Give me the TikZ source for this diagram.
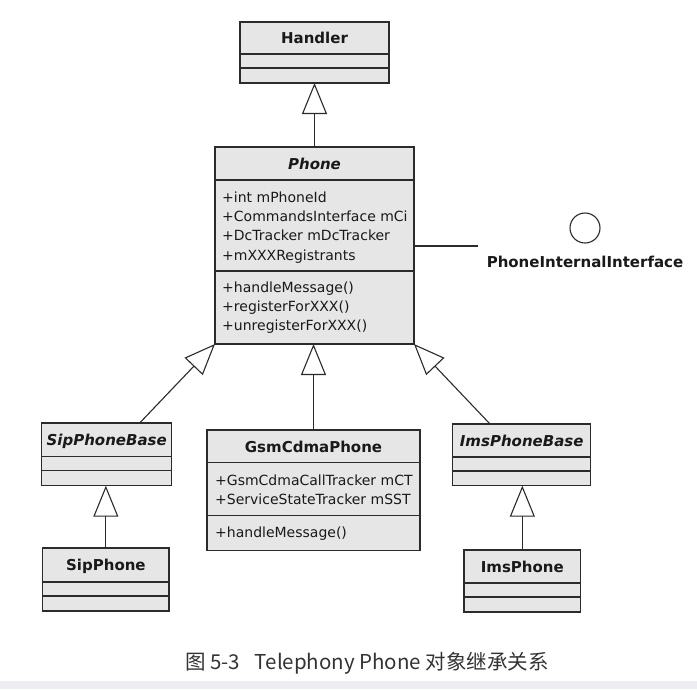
\documentclass[tikz,border=0pt]{standalone}
\usepackage{fontspec}
\setmainfont{DejaVu Sans}
\newfontfamily\cjk{Noto Sans CJK SC}
\usetikzlibrary{arrows.meta}
\definecolor{boxfill}{HTML}{E6E6E6}
\definecolor{ink}{HTML}{2B2B2B}
\definecolor{band}{HTML}{ECEEF2}
\begin{document}
\begin{tikzpicture}[x=1pt,y=-1pt,
 classbox/.style={draw=ink, fill=boxfill, line width=1.3pt, inner sep=0pt, outer sep=0pt, anchor=north west, rectangle},
 divider/.style={draw=ink, line width=1.2pt},
 ctitle/.style={font=\fontsize{15}{18}\selectfont\bfseries, text=black!90, anchor=base, inner sep=0pt},
 ititle/.style={ctitle, font=\fontsize{15}{18}\selectfont\bfseries\itshape},
 member/.style={font=\fontsize{14}{17}\selectfont, text=black!90, anchor=base west, inner sep=0pt},
 conn/.style={draw=ink, line width=1.1pt},
 gen/.style={conn, -{Triangle[open, length=31pt, width=25pt, line width=1.1pt]}},
]
\path[use as bounding box, fill=white] (0,0) rectangle (697,689);
\fill[band] (0,681) rectangle (697,689);

% Handler
\node[classbox, minimum width=149pt, minimum height=61pt] (handler) at (240,22) {};
\draw[divider] ([yshift=-32pt]handler.north west) -- ([yshift=-32pt]handler.north east);
\draw[divider] ([yshift=-46pt]handler.north west) -- ([yshift=-46pt]handler.north east);
\node[ctitle] (handlerT) at (314.5,43.5) {Handler};

% Phone
\node[classbox, minimum width=199pt, minimum height=197pt] (phone) at (215,147) {};
\draw[divider] ([yshift=-33pt]phone.north west) -- ([yshift=-33pt]phone.north east);
\draw[divider] ([yshift=-124pt]phone.north west) -- ([yshift=-124pt]phone.north east);
\node[ititle] (phoneT) at (314.5,169) {Phone};
\node[member] (pa1) at (222,202) {+int mPhoneId};
\node[member] (pa2) at (222,221.3) {+CommandsInterface mCi};
\node[member] (pa3) at (222,240.6) {+DcTracker mDcTracker};
\node[member] (pa4) at (222,260) {+mXXXRegistrants};
\node[member] (pm1) at (222,292) {+handleMessage()};
\node[member] (pm2) at (222,311.3) {+registerForXXX()};
\node[member] (pm3) at (222,330.6) {+unregisterForXXX()};

% Interface
\coordinate (lolEnd) at (478,246);
\draw[conn] (phone.east |- lolEnd) -- (lolEnd);
\node[draw=ink, circle, minimum size=30pt, inner sep=0pt, line width=1.1pt] (iface) at (585,228) {};
\node[ctitle] (ifaceT) at (585,267.5) {PhoneInternalInterface};

% SipPhoneBase
\node[classbox, minimum width=130pt, minimum height=62.7pt] (sipbase) at (41.7,423) {};
\draw[divider] ([yshift=-33.7pt]sipbase.north west) -- ([yshift=-33.7pt]sipbase.north east);
\draw[divider] ([yshift=-47.7pt]sipbase.north west) -- ([yshift=-47.7pt]sipbase.north east);
\node[ititle] (sipbaseT) at (106.7,445.5) {SipPhoneBase};

% SipPhone
\node[classbox, minimum width=126.3pt, minimum height=63pt] (sip) at (42.7,548) {};
\draw[divider] ([yshift=-34pt]sip.north west) -- ([yshift=-34pt]sip.north east);
\draw[divider] ([yshift=-48pt]sip.north west) -- ([yshift=-48pt]sip.north east);
\node[ctitle] (sipT) at (105.9,570.5) {SipPhone};

% GsmCdmaPhone
\node[classbox, minimum width=213pt, minimum height=120.7pt] (gsm) at (207,430) {};
\draw[divider] ([yshift=-32.7pt]gsm.north west) -- ([yshift=-32.7pt]gsm.north east);
\draw[divider] ([yshift=-85.7pt]gsm.north west) -- ([yshift=-85.7pt]gsm.north east);
\node[ctitle] (gsmT) at (313.5,452) {GsmCdmaPhone};
\node[member] (ga1) at (215,485) {+GsmCdmaCallTracker mCT};
\node[member] (ga2) at (215,504.3) {+ServiceStateTracker mSST};
\node[member] (gm1) at (215,537.7) {+handleMessage()};

% ImsPhoneBase
\node[classbox, minimum width=138pt, minimum height=61.7pt] (imsbase) at (452.7,424) {};
\draw[divider] ([yshift=-33pt]imsbase.north west) -- ([yshift=-33pt]imsbase.north east);
\draw[divider] ([yshift=-47pt]imsbase.north west) -- ([yshift=-47pt]imsbase.north east);
\node[ititle] (imsbaseT) at (521.7,446) {ImsPhoneBase};

% ImsPhone
\node[classbox, minimum width=116.7pt, minimum height=62pt] (ims) at (464,550) {};
\draw[divider] ([yshift=-33pt]ims.north west) -- ([yshift=-33pt]ims.north east);
\draw[divider] ([yshift=-47pt]ims.north west) -- ([yshift=-47pt]ims.north east);
\node[ctitle] (imsT) at (522.3,572) {ImsPhone};

% Generalizations
\draw[gen] (phone.north) -- (handler.south);
\draw[gen] ([xshift=33pt]sipbase.north) -- (phone.south west);
\draw[gen] (gsm.north) -- (gsm.north |- phone.south);
\draw[gen] ([xshift=-31.7pt]imsbase.north) -- (phone.south east);
\draw[gen] (sip.north) -- (sip.north |- sipbase.south);
\draw[gen] (ims.north) -- (ims.north |- imsbase.south);

% Caption
\node[font=\cjk\fontsize{20.5}{24}\selectfont, text=black!80, inner sep=0pt] (caption) at (367,663) {图 5-3\hspace{0.5em} Telephony Phone 对象继承关系};
\end{tikzpicture}
\end{document}
